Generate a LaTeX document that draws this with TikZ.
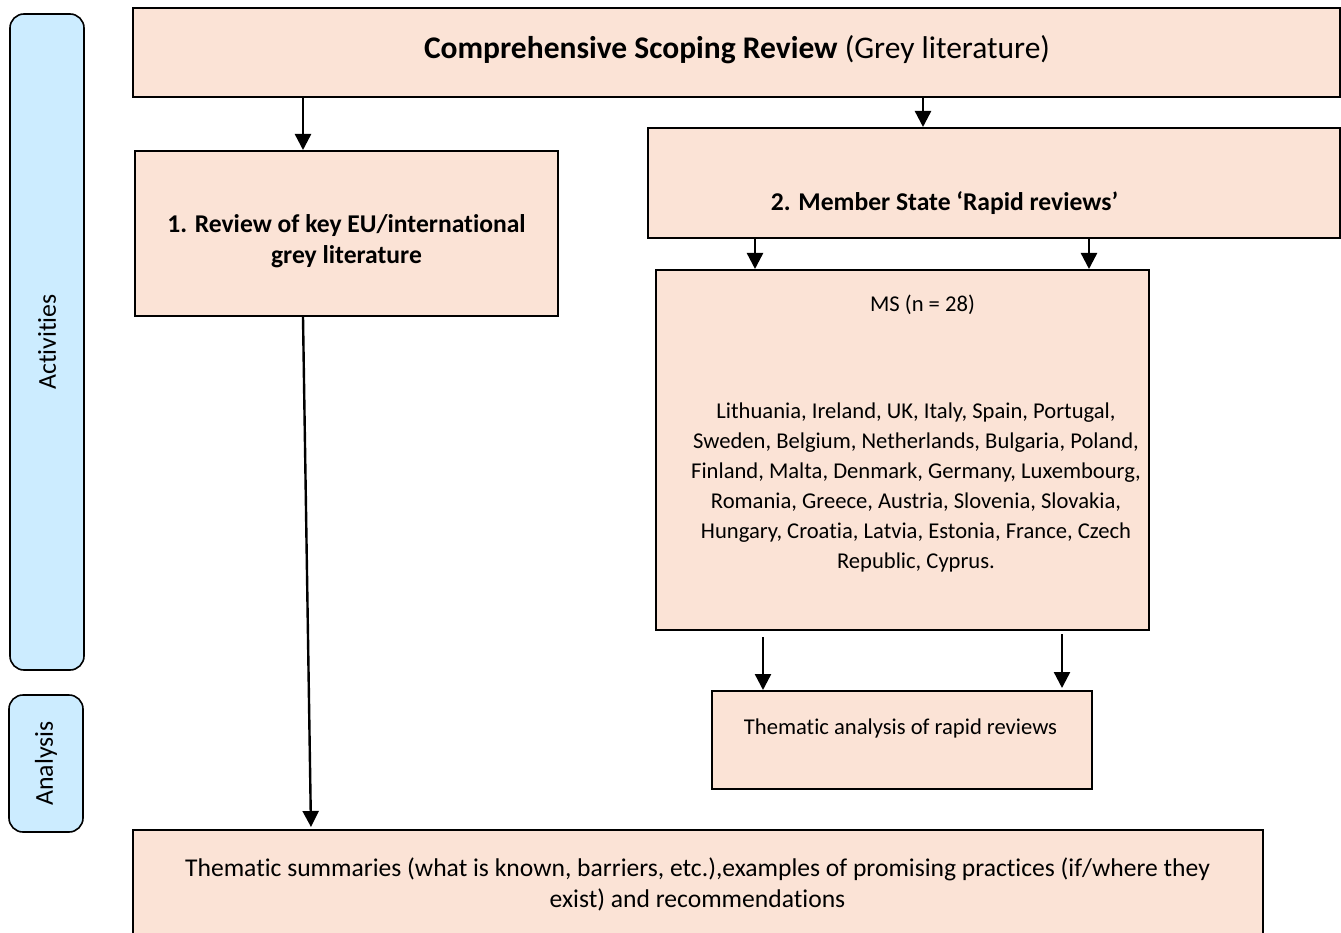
\documentclass[tikz,border=0pt]{standalone}
\usepackage{fontspec}
\setmainfont{Carlito}[RawFeature={-liga;-clig;-calt;-dlig}]
\usetikzlibrary{arrows.meta}
\definecolor{peach}{RGB}{251,227,214}
\definecolor{paleblue}{RGB}{204,236,255}
\tikzset{
  box/.style={draw=black, line width=2pt, fill=peach, rectangle, inner sep=0pt},
  side/.style={draw=black, line width=1.6pt, fill=paleblue, rounded corners=14pt, inner sep=0pt},
  txt/.style={inner sep=0pt, align=center, font=\fontsize{22.6}{30}\selectfont},
  sidetxt/.style={inner sep=0pt, rotate=90, font=\fontsize{25.8}{30}\selectfont},
  btxt/.style={inner sep=0pt, align=center, font=\fontsize{25.6}{31}\selectfont\bfseries},
  arr/.style={line width=2.4pt, -{Triangle[length=16pt,width=16pt]}}
}
\begin{document}
\begin{tikzpicture}[x=1pt,y=-1pt]
\useasboundingbox (0,0) rectangle (1341,933);
% side labels
\node[side, minimum width=74pt, minimum height=656pt] (act) at (47,342) {};
\node[sidetxt] (acttxt) at (act.center) {Activities};
\node[side, minimum width=74pt, minimum height=137pt] (ana) at (46,763.5) {};
\node[sidetxt] (anatxt) at (ana.center) {Analysis};
% boxes
\node[box, minimum width=1207pt, minimum height=89pt] (top) at (736.5,52.5) {};
\node[inner sep=0pt, font=\fontsize{31.5}{36}\selectfont] (toptxt) at (737,50) {\textbf{Comprehensive Scoping Review} (Grey literature)};
\node[box, minimum width=423pt, minimum height=165pt] (b1) at (346.5,233.5) {};
\node[btxt] (b1txt) at (346.5,241) {1. Review of key EU/international\\grey literature};
\node[box, minimum width=692pt, minimum height=110pt] (b2) at (994,183) {};
\node[btxt] (b2txt) at (944.5,203) {2. Member State `Rapid reviews'};
\node[box, minimum width=493pt, minimum height=360pt] (ms) at (902.5,450) {};
\node[txt] (mshead) at (922.5,305) {MS (n = 28)};
\node[txt] (mslist) at (916,487) {Lithuania, Ireland, UK, Italy, Spain, Portugal,\\Sweden, Belgium, Netherlands, Bulgaria, Poland,\\Finland, Malta, Denmark, Germany, Luxembourg,\\Romania, Greece, Austria, Slovenia, Slovakia,\\Hungary, Croatia, Latvia, Estonia, France, Czech\\Republic, Cyprus.};
\node[box, minimum width=380pt, minimum height=98pt] (ta) at (902,740) {};
\node[txt] (tatxt) at (900.5,728) {Thematic analysis of rapid reviews};
\node[box, minimum width=1130pt, minimum height=120pt] (bot) at (698,890) {};
\node[txt, font=\fontsize{25.6}{31}\selectfont] (bottxt) at (697.5,884.5) {Thematic summaries (what is known, barriers, etc.),examples of promising practices (if/where they\\exist) and recommendations};
% arrow x positions
\coordinate (x1) at (303,0);
\coordinate (x1b) at (311,0);
\coordinate (x2) at (923,0);
\coordinate (x3) at (755,0);
\coordinate (x4) at (1089,0);
\coordinate (x5) at (763,0);
\coordinate (x6) at (1062,0);
% arrows
\draw[arr] (top.south -| x1) -- (b1.north -| x1);
\draw[arr] (top.south -| x2) -- (b2.north -| x2);
\draw[arr] (b2.south -| x3) -- (ms.north -| x3);
\draw[arr] (b2.south -| x4) -- (ms.north -| x4);
\draw[arr, shorten <=6pt] (ms.south -| x5) -- (ta.north -| x5);
\draw[arr, shorten <=3pt, shorten >=2pt] (ms.south -| x6) -- (ta.north -| x6);
\draw[arr, shorten >=2pt] (b1.south -| x1) -- (bot.north -| x1b);
\end{tikzpicture}
\end{document}
